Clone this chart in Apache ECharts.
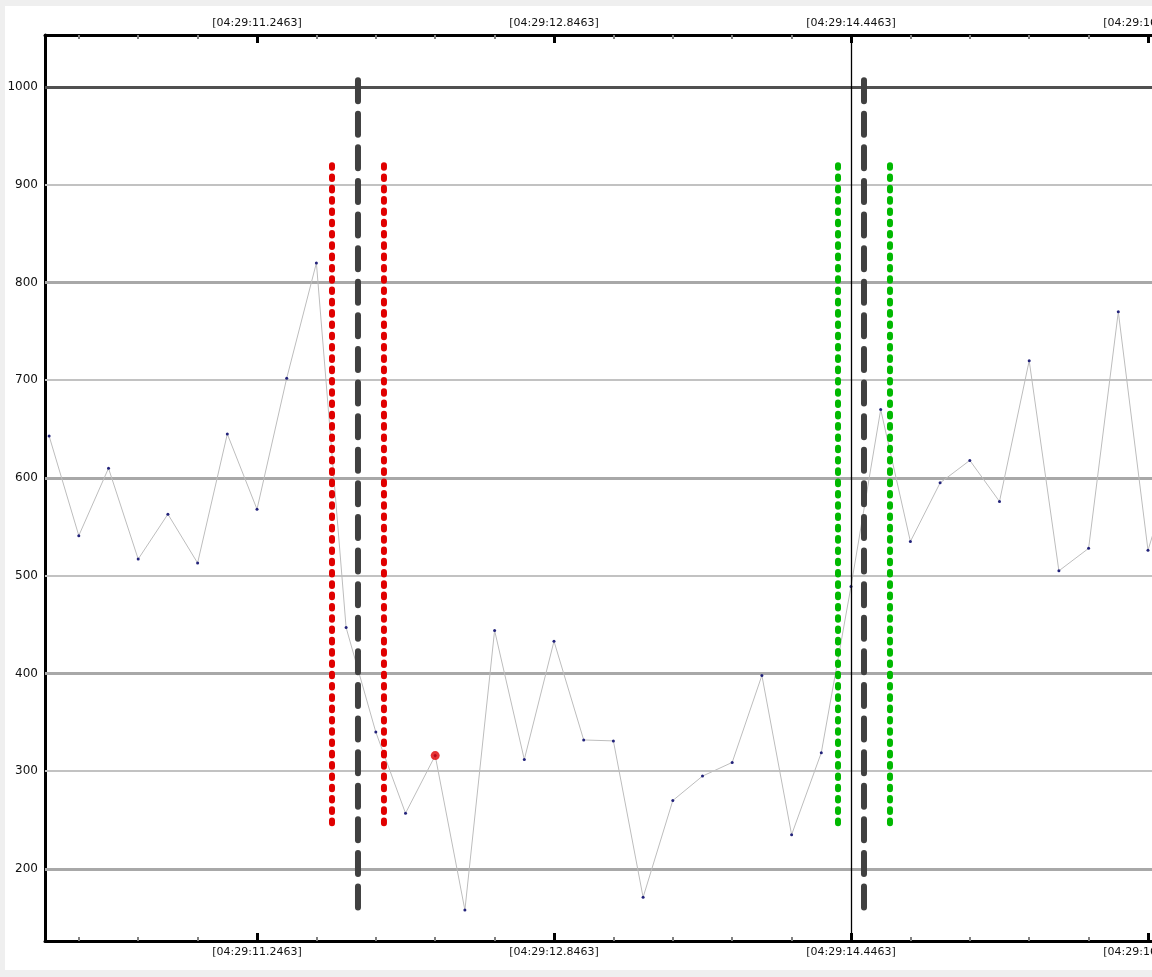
<!DOCTYPE html>
<html><head><meta charset="utf-8">
<script src="https://cdn.jsdelivr.net/npm/echarts@6/dist/echarts.min.js"></script>
<style>
html,body{margin:0;padding:0;background:#efefef;overflow:hidden;width:1152px;height:977px;}
#panel{position:absolute;left:5px;top:6px;width:1147px;height:964px;background:#fff;}
#chart{position:absolute;left:0;top:0;width:1220px;height:977px;}
</style></head><body><div id="panel"></div><div id="chart"></div>
<script>
// ---- data ----
const timePrefix = '04:29:';
const times = [10.1263, 10.2863, 10.4463, 10.6063, 10.7663, 10.9263, 11.0863, 11.2463, 11.4063, 11.5663,
               11.7263, 11.8863, 12.0463, 12.2063, 12.3663, 12.5263, 12.6863, 12.8463, 13.0063, 13.1663,
               13.3263, 13.4863, 13.6463, 13.8063, 13.9663, 14.1263, 14.2863, 14.4463, 14.6063, 14.7663,
               14.9263, 15.0863, 15.2463, 15.4063, 15.5663, 15.7263, 15.8863, 16.0463, 16.2063];
const values = [643, 541, 610, 517, 563, 513, 645, 568, 702, 820,
                447, 340, 257, 316, 158, 444, 312, 433, 332, 331,
                171, 270, 295, 309, 398, 235, 319, 489, 670, 535,
                595, 618, 576, 720, 505, 528, 770, 526, 625];
const highlightPoint = [12.2063, 316];
const majorTicks = [11.2463, 12.8463, 14.4463, 16.0463];
const minorTicks = [10.2863, 10.6063, 10.9263, 11.5663, 11.8863, 12.2063, 12.5263, 13.1663, 13.4863,
                    13.8063, 14.1263, 14.7663, 15.0863, 15.4063, 15.7263];
const yLabels = [200, 300, 400, 500, 600, 700, 800, 900, 1000];
const gridStrong = [200, 400, 600, 800];
const gridLight = [300, 500, 700, 900];
const gridLimit = [1000];
const redLinesX = [11.6503, 11.9303];
const greenLinesX = [14.3763, 14.6563];
const blackLinesX = [11.7903, 14.5163];
const cursorX = [14.4463];
const colorLineRange = [920, 245];
const blackLineRange = [1007, 160];
const xMin = 10.1042, xMax = 16.3911;
const yMin = 126.3, yMax = 1053.2;

// ---- chart ----
const chart = echarts.init(document.getElementById('chart'), null, {renderer: 'canvas'});
const font = 'DejaVu Sans';
const fmt = v => '[' + timePrefix + v.toFixed(4) + ']';

function xAx(pos, major) {
  return {
    type: 'value', position: pos, min: xMin, max: xMax, gridIndex: 0,
    splitLine: {show: false},
    axisLine: major ? {show: true, onZero: false, lineStyle: {color: '#000', width: 3}} : {show: false, onZero: false},
    axisTick: major
      ? {show: true, inside: true, length: 8, customValues: majorTicks, lineStyle: {color: '#000', width: 3}}
      : {show: true, inside: true, length: 4, customValues: minorTicks, lineStyle: {color: '#808080', width: 2}},
    axisLabel: major
      ? {show: true, customValues: majorTicks, formatter: fmt, color: '#111', fontSize: 11, fontFamily: font, margin: 6}
      : {show: false}
  };
}

function vLine(x, range, color, dash, name) {
  return {
    type: 'line', name: name, z: 3, silent: true, animation: false,
    data: [[x, range[0]], [x, range[1]]],
    showSymbol: false, symbol: 'none',
    lineStyle: {color: color, width: 6, type: dash, cap: 'round'}
  };
}

function hLines(vals, color, width) {
  return vals.map(v => ({yAxis: v, lineStyle: {color: color, width: width, type: 'solid'}}));
}

const series = [
  {
    type: 'line', name: 'signal', z: 2, animation: false,
    data: times.map((t, i) => [t, values[i]]),
    symbol: 'circle', symbolSize: 3, showSymbol: true,
    itemStyle: {color: '#22227a'},
    lineStyle: {color: '#bdbdbd', width: 1},
    markLine: {
      silent: true, z: 1, symbol: 'none', animation: false,
      label: {show: false},
      data: [].concat(hLines(gridLight, '#c2c2c2', 2), hLines(gridStrong, '#a8a8a8', 3), hLines(gridLimit, '#505050', 3))
    }
  }
];
redLinesX.forEach(x => series.push(vLine(x, colorLineRange, '#e00000', [2.6, 8.7], 'red')));
greenLinesX.forEach(x => series.push(vLine(x, colorLineRange, '#00b800', [2.6, 8.7], 'green')));
blackLinesX.forEach(x => series.push(vLine(x, blackLineRange, '#404040', [21, 12.6], 'black')));
series.push({
  type: 'scatter', name: 'highlight', z: 4, animation: false,
  data: [highlightPoint], symbolSize: 9, itemStyle: {color: '#e00000'},
  markLine: {
    silent: true, z: 3, symbol: 'none', animation: false, label: {show: false},
    data: cursorX.map(x => ({xAxis: x, lineStyle: {color: '#000', width: 1.3, type: 'solid'}}))
  }
});

chart.setOption({
  animation: false,
  backgroundColor: 'transparent',
  grid: {left: 45, right: 8, top: 35, bottom: 36, containLabel: false, outerBoundsMode: 'none'},
  xAxis: [xAx('bottom', true), xAx('bottom', false), xAx('top', true), xAx('top', false)],
  yAxis: [{
    type: 'value', min: yMin, max: yMax, position: 'left',
    splitLine: {show: false},
    axisLine: {show: true, onZero: false, lineStyle: {color: '#000', width: 3}},
    axisTick: {show: false},
    axisLabel: {customValues: yLabels, formatter: v => String(v), color: '#111', fontSize: 12, fontFamily: font, margin: 7}
  }],
  series: series
});
</script></body></html>
